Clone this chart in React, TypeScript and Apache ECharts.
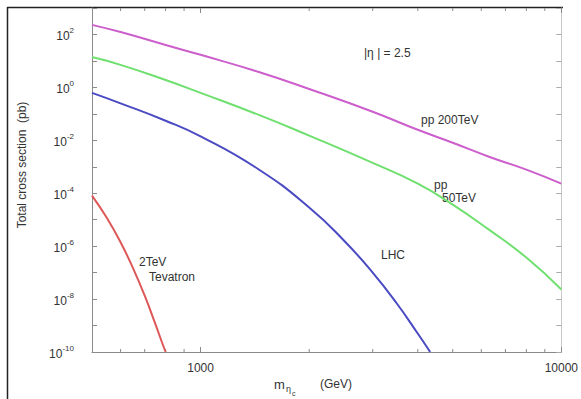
import React, { useEffect, useRef } from 'react';
import * as echarts from 'echarts';

// masses (GeV) and total cross sections (pb)
const massPP200 = [500, 600, 800, 1000, 1450, 2000, 3000, 4000, 5000, 6300, 8000, 10000];
const sigmaPP200 = [230, 123, 40, 17, 3.8, 0.87, 0.12, 0.025, 8.1e-3, 2.4e-3, 7.8e-4, 2.3e-4];

const massPP50 = [500, 600, 800, 1000, 1450, 2000, 3000, 4000, 5000, 6300, 8000, 10000];
const sigmaPP50 = [14, 7.1, 1.9, 0.62, 0.091, 0.015, 1.4e-3, 2.3e-4, 3.7e-5, 4.2e-6, 3.7e-7, 2.3e-8];

const massLHC = [500, 600, 800, 1000, 1450, 2000, 2500, 3000, 3500, 4000, 4330];
const sigmaLHC = [0.62, 0.25, 0.055, 0.0141, 7.9e-4, 2.9e-5, 1.6e-6, 1.0e-7, 6.8e-9, 5.0e-10, 1e-10];

const massTev = [500, 550, 600, 650, 700, 750, 780, 800];
const sigmaTev = [8.1e-5, 1.15e-5, 1.4e-6, 1.45e-7, 1.35e-8, 1.1e-9, 2.5e-10, 1e-10];

const xMin = 500;
const xMax = 10000;
const yMinExp = -10;
const yMaxExp = 3;
const xMajorLabels = [1000, 10000];
const xMinorTicks = [600, 700, 800, 900, 2000, 3000, 4000, 5000, 6000, 7000, 8000, 9000];

const FONT = '"Liberation Sans", Arial, sans-serif';
const TXT = '#333';
const AX = '#8a8a8a';

function pairs(xs: number[], ys: number[]) {
  return xs.map((x, i) => [x, Math.log10(ys[i])]);
}

export default function App() {
  const ref = useRef<HTMLDivElement>(null);
  useEffect(() => {
    if (!ref.current) return;
    const chart = echarts.init(ref.current, undefined, { renderer: 'svg' });
    const lineSeries = (name: string, xs: number[], ys: number[], color: string) => ({
      name,
      type: 'line',
      data: pairs(xs, ys),
      smooth: 0.5,
      showSymbol: false,
      symbol: 'none',
      lineStyle: { color, width: 2 },
      itemStyle: { color },
      clip: true,
    });
    const yAxisBase = {
      type: 'value',
      min: yMinExp,
      max: yMaxExp,
      interval: 1,
      splitLine: { show: false },
    };
    const option: any = {
      animation: false,
      backgroundColor: '#fff',
      grid: { left: 92, right: 19, top: 8, bottom: 47 },
      xAxis: [
        {
          type: 'log',
          logBase: 10,
          min: xMin,
          max: xMax,
          position: 'bottom',
          axisLine: { show: true, onZero: false, lineStyle: { color: AX, width: 1 } },
          axisTick: { show: true, inside: true, length: 5, lineStyle: { color: AX } },
          axisLabel: {
            color: TXT,
            fontSize: 12,
            fontFamily: FONT,
            margin: 10,
            formatter: (v: number) =>
              xMajorLabels.some((m) => Math.abs(m - v) / m < 1e-6) ? String(Math.round(v)) : '',
          },
          splitLine: { show: false },
        },
        {
          type: 'log',
          logBase: 10,
          min: xMin,
          max: xMax,
          position: 'top',
          axisLine: { show: false, onZero: false },
          axisTick: { show: true, inside: true, length: 5, lineStyle: { color: AX } },
          axisLabel: { show: false },
          splitLine: { show: false },
        },
      ],
      yAxis: [
        {
          ...yAxisBase,
          position: 'left',
          axisLine: { show: true, onZero: false, lineStyle: { color: AX, width: 1 } },
          axisTick: { show: true, inside: true, length: 5, lineStyle: { color: AX } },
          axisLabel: {
            margin: 18,
            formatter: (v: number) => {
              const e = Math.round(v);
              if (e % 2 !== 0) return '';
              return '{b|10}{sup|' + e + '}';
            },
            rich: {
              b: { fontSize: 12, lineHeight: 16, verticalAlign: 'bottom', color: TXT, fontFamily: FONT },
              sup: { fontSize: 8, lineHeight: 10, verticalAlign: 'top', color: TXT, fontFamily: FONT },
            },
          },
        },
        {
          ...yAxisBase,
          position: 'right',
          axisLine: { show: true, onZero: false, lineStyle: { color: '#c8c8c8', width: 1 } },
          axisTick: { show: true, inside: true, length: 5, lineStyle: { color: '#aaa' } },
          axisLabel: { show: false },
        },
      ],
      series: [
        lineSeries('pp 200TeV', massPP200, sigmaPP200, '#cc5fcc'),
        lineSeries('pp 50TeV', massPP50, sigmaPP50, '#6fe06f'),
        lineSeries('LHC', massLHC, sigmaLHC, '#4a4ac2'),
        lineSeries('2TeV Tevatron', massTev, sigmaTev, '#de5858'),
        {
          type: 'custom',
          silent: true,
          clip: false,
          data: xMinorTicks.map((v) => [v, yMinExp]),
          encode: { x: 0, y: 1 },
          renderItem: (_p: any, api: any) => {
            const b = api.coord([api.value(0), yMinExp]);
            const t = api.coord([api.value(0), yMaxExp]);
            return {
              type: 'group',
              children: [
                { type: 'line', shape: { x1: b[0], y1: b[1], x2: b[0], y2: b[1] - 3 }, style: { stroke: AX, lineWidth: 1 } },
                { type: 'line', shape: { x1: t[0], y1: t[1], x2: t[0], y2: t[1] + 3 }, style: { stroke: AX, lineWidth: 1 } },
              ],
            };
          },
        },
      ],
      graphic: [
        { type: 'line', shape: { x1: 7, y1: 7.5, x2: 563, y2: 7.5 }, style: { stroke: '#222', lineWidth: 1.5 } },
        { type: 'line', shape: { x1: 7.5, y1: 7, x2: 7.5, y2: 399 }, style: { stroke: '#222', lineWidth: 1.5 } },
        {
          type: 'text', x: 22, y: 165, rotation: Math.PI / 2,
          style: { text: 'Total cross section  (pb)', font: '12px ' + FONT, fill: TXT, textAlign: 'center', textVerticalAlign: 'middle' },
        },
        { type: 'text', x: 274, y: 384, style: { text: 'm', font: '13px ' + FONT, fill: TXT, textVerticalAlign: 'middle' } },
        { type: 'text', x: 286, y: 389, style: { text: 'η', font: '9px ' + FONT, fill: TXT, textVerticalAlign: 'middle' } },
        { type: 'text', x: 292, y: 393, style: { text: 'c', font: '7px ' + FONT, fill: TXT, textVerticalAlign: 'middle' } },
        { type: 'text', x: 320, y: 384, style: { text: '(GeV)', font: '12px ' + FONT, fill: TXT, textVerticalAlign: 'middle' } },
        { type: 'text', x: 364, y: 53, style: { text: '|η | = 2.5', font: '12px ' + FONT, fill: TXT, textVerticalAlign: 'middle' } },
        { type: 'text', x: 421, y: 120, style: { text: 'pp 200TeV', font: '12px ' + FONT, fill: TXT, textVerticalAlign: 'middle' } },
        { type: 'text', x: 434, y: 185, style: { text: 'pp', font: '12px ' + FONT, fill: TXT, textVerticalAlign: 'middle' } },
        { type: 'text', x: 442, y: 198, style: { text: '50TeV', font: '12px ' + FONT, fill: TXT, textVerticalAlign: 'middle' } },
        { type: 'text', x: 381, y: 255, style: { text: 'LHC', font: '12px ' + FONT, fill: TXT, textVerticalAlign: 'middle' } },
        { type: 'text', x: 139, y: 262, style: { text: '2TeV', font: '12px ' + FONT, fill: TXT, textVerticalAlign: 'middle' } },
        { type: 'text', x: 149, y: 277, style: { text: 'Tevatron', font: '12px ' + FONT, fill: TXT, textVerticalAlign: 'middle' } },
      ],
    };
    chart.setOption(option);
    return () => chart.dispose();
  }, []);
  return <div ref={ref} style={{ position: 'absolute', left: 0, top: 0, width: 581, height: 399 }} />;
}
